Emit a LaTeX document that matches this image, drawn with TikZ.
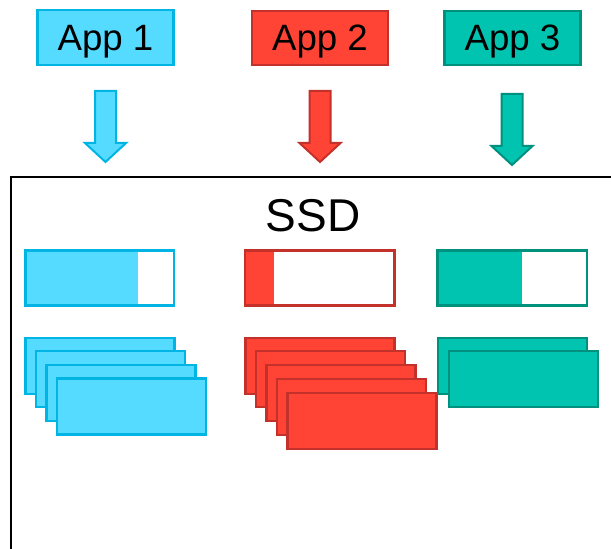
\documentclass[tikz,border=0pt]{standalone}
\usepackage{fontspec}
\setmainfont{Liberation Sans}
\definecolor{bfill}{HTML}{55DBFF}
\definecolor{bline}{HTML}{00B4E4}
\definecolor{rfill}{HTML}{FF4436}
\definecolor{rline}{HTML}{C4302A}
\definecolor{tfill}{HTML}{00C4B0}
\definecolor{tline}{HTML}{00907E}
\tikzset{
  appbox/.style={draw=#1line, fill=#1fill, line width=1.6pt, minimum width=102pt, minimum height=41pt, inner sep=0pt, text depth=0pt, font=\fontsize{27.5}{30}\selectfont},
  blockarrow/.style={draw=#1line, fill=#1fill, line width=1.5pt, line join=miter},
  bar/.style={draw=#1line, line width=2pt},
  card/.style={draw=#1line, fill=#1fill, line width=1.8pt},
}
\newcommand{\blockarr}[4]{% color, cx, top, tip
  \draw[blockarrow=#1] (#2-10.5,#3) -- (#2+10.5,#3) -- (#2+10.5,#4-19) -- (#2+20.5,#4-19) -- (#2,#4) -- (#2-20.5,#4-19) -- (#2-10.5,#4-19) -- cycle;}
\newcommand{\cardat}[3]{% color, x, y
  \draw[card=#1] (#2,#3) rectangle ++(149,56);}
\begin{document}
\begin{tikzpicture}[x=0.75pt,y=-0.75pt]
\useasboundingbox (0,0) rectangle (611,549);
\clip (0,0) rectangle (611,549);
% apps
\node[appbox=b] (app1) at (105.5,37.5) {App 1};
\node[appbox=r] (app2) at (320,38) {App 2};
\node[appbox=t] (app3) at (512.5,38) {App 3};
% arrows
\blockarr{b}{105.5}{91}{162}
\blockarr{r}{320}{91}{162}
\blockarr{t}{512}{94}{165}
% SSD
\draw[line width=2pt] (620,177) -- (11,177) -- (11,560);
\node[font=\fontsize{34.5}{38}\selectfont, text depth=0pt] (ssd) at (313,215) {SSD};
% usage bars
\fill[bfill] (25.5,250.5) rectangle (138,305.5);
\draw[bar=b] (25.5,250.5) rectangle (174,305.5);
\fill[rfill] (245,250.5) rectangle (274,305.5);
\draw[bar=r] (245,250.5) rectangle (394.5,305.5);
\fill[tfill] (437.5,250.5) rectangle (522,305.5);
\draw[bar=t] (437.5,250.5) rectangle (587,305.5);
% stacks
\cardat{b}{25.5}{338}
\cardat{b}{36}{351}
\cardat{b}{46.5}{365}
\cardat{b}{57}{378.5}
\cardat{r}{245.5}{338}
\cardat{r}{256}{351}
\cardat{r}{266.5}{365}
\cardat{r}{277}{379}
\cardat{r}{287.5}{393}
\cardat{t}{438}{338}
\cardat{t}{449}{351}
\end{tikzpicture}
\end{document}
